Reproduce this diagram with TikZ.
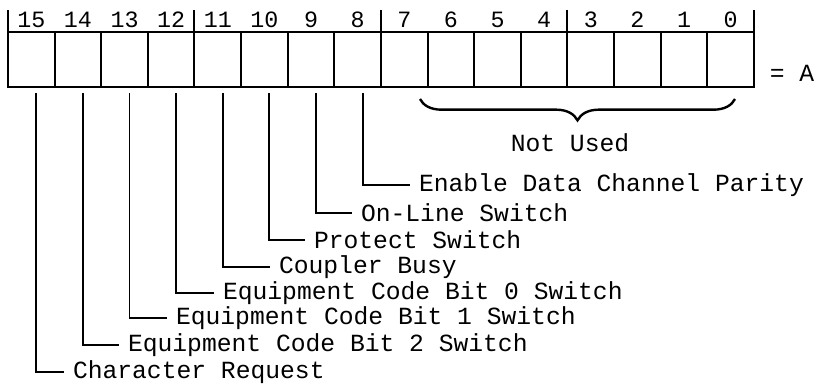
\documentclass[tikz,border=0pt]{standalone}
\usepackage{fontspec}
\setmonofont{Liberation Mono}
\usetikzlibrary{decorations.pathreplacing}

\begin{document}
\begin{tikzpicture}[x=0.75pt, y=-0.75pt, line width=1.5pt,
    every node/.style={font=\ttfamily\fontsize{18.5}{20}\selectfont},
    cell/.style={draw, minimum width=34.97pt, minimum height=41.25pt, inner sep=0pt, outer sep=0pt},
    bitno/.style={font=\ttfamily\fontsize{17.5}{18}\selectfont, inner sep=0pt},
    lbl/.style={anchor=west, inner sep=6pt},
    leader/.style={line width=1.4pt}]
  \useasboundingbox (0,0) rectangle (840,386);
  % register cells, bit 15 at the left
  \foreach \i in {0,...,15}{
    \node[cell] (b\i) at ({31.3+46.625*(15-\i)},59.5) {};
    \node[bitno] (n\i) at ({31.3+46.625*(15-\i)},20) {\i};
  }
  % group marks above the cells
  \draw (b15.north west) -- ++(0,-22);
  \draw (b12.north east) -- ++(0,-22);
  \draw (b8.north east) -- ++(0,-22);
  \draw (b4.north east) -- ++(0,-22);
  \draw (b0.north east) -- ++(0,-22);
  \node (eqA) at (792,73) {= A};
  % unused bits
  \coordinate (brL) at (420,99);
  \coordinate (brR) at (735,99);
  \draw[line width=1.8pt, decorate, decoration={brace, mirror, amplitude=16pt}] (brL) -- (brR);
  \node (unused) at (570,143) {Not Used};
  % bit names
  \node[lbl] (l8) at (410,185) {Enable Data Channel Parity};
  \node[lbl] (l9) at (352,213) {On-Line Switch};
  \node[lbl] (l10) at (305,240) {Protect Switch};
  \node[lbl] (l11) at (270,267) {Coupler Busy};
  \node[lbl] (l12) at (214,293) {Equipment Code Bit 0 Switch};
  \node[lbl] (l13) at (167,318) {Equipment Code Bit 1 Switch};
  \node[lbl] (l14) at (119,345) {Equipment Code Bit 2 Switch};
  \node[lbl] (l15) at (64,372) {Character Request};
  \foreach \i in {8,...,15}
    \draw[leader] (b\i.south) ++(5,6) |- (l\i.west);
\end{tikzpicture}
\end{document}
